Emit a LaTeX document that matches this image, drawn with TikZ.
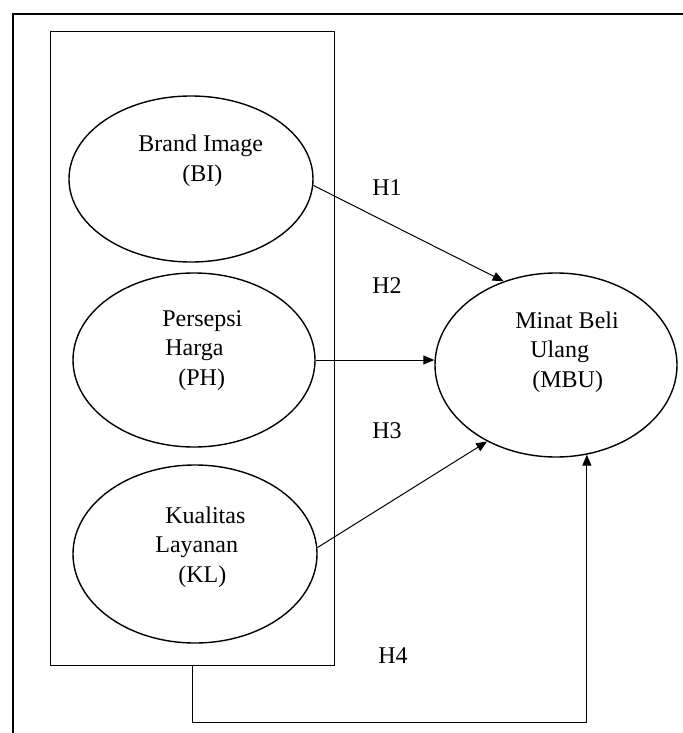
\documentclass[tikz,border=0pt]{standalone}
\usepackage{fontspec}
\setmainfont{Liberation Serif}
\usetikzlibrary{arrows.meta,positioning,shapes.geometric}
\tikzset{
    %Define standard arrow tip
    >={Triangle[length=5.5pt,width=4.5pt]},
    %Define style for the ellipses
    elips/.style={
           ellipse,
           draw=black, line width=0.7pt,
           minimum width=244pt,
           inner sep=0pt},
    %Define style for the texts
    tekst/.style={
           align=left,
           anchor=base west,
           inner sep=0pt,
           font=\fontsize{12}{14.75}\selectfont},
    % Define arrow style
    panah/.style={
           ->,
           line width=0.5pt}
}

\begin{document}
\begin{tikzpicture}[x=0.5pt,y=-0.5pt]
    \useasboundingbox (0,0) rectangle (683,733);
    \draw[line width=0.9pt] (13,733) -- (13,14) -- (683,14);
    \node[draw, line width=0.5pt, minimum width=142pt, minimum height=316.5pt, inner sep=0pt]
        (grup) at (192,348.5) {};
    \node[elips, minimum width=122pt, minimum height=83pt] (bi) at (191,179) {};
    \node[elips, minimum width=121pt, minimum height=87pt] (ph) at (194,360) {};
    \node[elips, minimum width=122pt, minimum height=89pt] (kl) at (195,554) {};
    \node[elips, minimum width=121pt, minimum height=92pt] (mbu) at (556,365) {};
    \node[tekst] (bi-txt) at (138,181) {Brand Image\\\hspace*{22pt}(BI)};
    \node[tekst] (ph-txt) at (162,385) {Persepsi\\\hspace*{1.5pt}Harga\\\hspace*{8pt}(PH)};
    \node[tekst] (kl-txt) at (155,582) {\hspace*{5pt}Kualitas\\Layanan\\\hspace*{11.5pt}(KL)};
    \node[tekst] (mbu-txt) at (515,387) {Minat Beli\\\hspace*{7.5pt}Ulang\\\hspace*{8.5pt}(MBU)};
    \draw[panah] (bi.-3) -- (mbu.122);
    \draw[panah] (ph.east) -- (ph.east -| mbu.west);
    \draw[panah] (kl.3) -- (mbu.-132);
    \draw[panah] (grup.south) -- ++(0,57) -| (mbu.-71);
    \node[tekst] (h1) at (372,195) {H1};
    \node[tekst] (h2) at (372,293) {H2};
    \node[tekst] (h3) at (372,438) {H3};
    \node[tekst] (h4) at (378,663) {H4};
\end{tikzpicture}
\end{document}
